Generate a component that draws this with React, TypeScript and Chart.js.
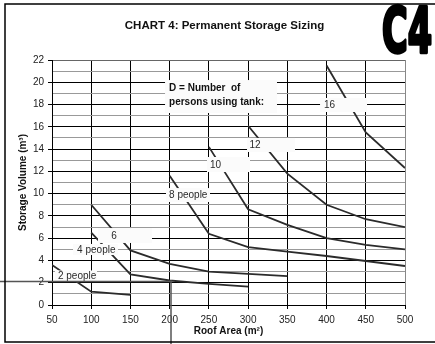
import React, { useEffect, useRef } from "react";
import { Chart, registerables } from "chart.js";

Chart.register(...registerables);

// Data
const roofArea = [50, 100, 150, 200, 250, 300, 350, 400, 450, 500];
const people2 = [3.6, 1.2, 0.9, null, null, null, null, null, null, null];
const people4 = [null, 6.5, 2.75, 2.2, 1.9, 1.65, null, null, null, null];
const people6 = [null, 9.0, 4.9, 3.7, 3.0, 2.8, 2.6, null, null, null];
const people8 = [null, null, null, 11.6, 6.4, 5.2, 4.8, 4.4, 3.95, 3.5];
const people10 = [null, null, null, null, 14.2, 8.6, 7.2, 6.0, 5.4, 5.0];
const people12 = [null, null, null, null, null, 16.1, 11.8, 9.0, 7.7, 7.0];
const people16 = [null, null, null, null, null, null, null, 21.5, 15.5, 12.3];

const seriesList = [people2, people4, people6, people8, people10, people12, people16];

const chartTitle = "CHART 4: Permanent Storage Sizing";
const xTitle = "Roof Area (m²)";
const yTitle = "Storage Volume (m³)";
const badge = "C4";

// Label annotations (data units): text anchor + white box
const labelTexts = ["2 people", "4 people", "6", "8 people", "10", "12", "16"];
const labelBoxes = [
  // [x0, x1, yTop, yBottom, textX]
  [53.8, 107.4, 3.1, 2.15, 57.6],
  [76.8, 134.1, 5.48, 4.49, 82],
  [108.6, 177.5, 6.91, 5.57, 125.5],
  [195.3, 251.4, 10.5, 9.25, 199.2],
  [247.6, 302.4, 13.29, 11.94, 251.4],
  [298.6, 359.8, 15.0, 13.74, 301.8],
  [391.7, 451.6, 18.59, 17.33, 396.8],
];
const legendNote = ["D = Number  of", "persons using tank:"];
const legendBox = [194.1, 336.8, 20.2, 17.24, 199.2];
const crosshair = { x: 201.7, y: 2.11 };

const FONT = "'Liberation Sans', Arial, sans-serif";

export default function App() {
  const ref = useRef<HTMLCanvasElement | null>(null);

  useEffect(() => {
    const canvas = ref.current;
    if (!canvas) return;

    const overlay = {
      id: "overlay",
      afterDatasetsDraw(chart: any) {
        const ctx = chart.ctx;
        const xs = chart.scales.x;
        const ys = chart.scales.y;
        ctx.save();
        // label boxes
        ctx.font = `10px ${FONT}`;
        ctx.textBaseline = "middle";
        labelTexts.forEach((t, i) => {
          const [x0, x1, yt, yb, tx] = labelBoxes[i];
          const px0 = xs.getPixelForValue(x0);
          const px1 = xs.getPixelForValue(x1);
          const py0 = ys.getPixelForValue(yt);
          const py1 = ys.getPixelForValue(yb);
          ctx.fillStyle = "#fbfbfb";
          ctx.fillRect(px0, py0, px1 - px0, py1 - py0);
          ctx.fillStyle = "#2a2a2a";
          ctx.textAlign = "left";
          ctx.fillText(t, xs.getPixelForValue(tx), (py0 + py1) / 2 + 0.5);
        });
        // legend note
        {
          const [x0, x1, yt, yb, tx] = legendBox;
          const px0 = xs.getPixelForValue(x0);
          const px1 = xs.getPixelForValue(x1);
          const py0 = ys.getPixelForValue(yt);
          const py1 = ys.getPixelForValue(yb);
          ctx.fillStyle = "#fbfbfb";
          ctx.fillRect(px0, py0, px1 - px0, py1 - py0);
          ctx.fillStyle = "#111";
          ctx.font = `bold 10px ${FONT}`;
          ctx.textAlign = "left";
          const h = py1 - py0;
          legendNote.forEach((line, i) => {
            ctx.fillText(line, xs.getPixelForValue(tx), py0 + h * (0.24 + i * 0.43));
          });
        }
        // crosshair
        const cx = xs.getPixelForValue(crosshair.x);
        const cy = ys.getPixelForValue(crosshair.y);
        ctx.strokeStyle = "#555";
        ctx.lineWidth = 1.5;
        ctx.beginPath();
        ctx.moveTo(0, cy);
        ctx.lineTo(cx, cy);
        ctx.moveTo(cx, cy - 1);
        ctx.lineTo(cx, chart.height);
        ctx.stroke();
        ctx.restore();
      },
      afterDraw(chart: any) {
        const ctx = chart.ctx;
        const W = chart.width;
        const H = chart.height;
        const area = chart.chartArea;
        ctx.save();
        // frame
        ctx.strokeStyle = "#000";
        ctx.lineWidth = 1.5;
        ctx.beginPath();
        ctx.moveTo(W, 4);
        ctx.lineTo(5, 4);
        ctx.lineTo(5, H - 2);
        ctx.lineTo(W, H - 2);
        ctx.stroke();
        // title
        ctx.fillStyle = "#111";
        ctx.font = `bold 11.5px ${FONT}`;
        ctx.textAlign = "center";
        ctx.textBaseline = "middle";
        ctx.fillText(chartTitle, (area.left + area.right) / 2 - 4, 26);
        // badge
        ctx.font = `bold 62px 'Liberation Sans Narrow', 'DejaVu Sans Condensed', ${FONT}`;
        ctx.textAlign = "left";
        ctx.textBaseline = "alphabetic";
        const w = ctx.measureText(badge).width;
        ctx.translate(382, 52);
        ctx.scale(50 / w, 1);
        ctx.fillStyle = "#000";
        ctx.fillText(badge, 0, 0);
        ctx.lineWidth = 3.5;
        ctx.lineJoin = "round";
        ctx.strokeStyle = "#000";
        ctx.strokeText(badge, 0, 0);
        ctx.restore();
      },
    };

    const datasets = seriesList.map((s) => ({
      data: roofArea.map((x, i) => ({ x, y: s[i] })),
      borderColor: "#2b2b2b",
      borderWidth: 1.8,
      pointRadius: 0,
      fill: false,
      tension: 0,
      spanGaps: false,
    }));

    const chart = new Chart(canvas, {
      type: "line",
      data: { datasets },
      options: {
        animation: false,
        responsive: false,
        layout: { padding: { top: 60, right: 30, left: 12, bottom: 0 } },
        plugins: { legend: { display: false }, tooltip: { enabled: false }, title: { display: false } },
        scales: {
          x: {
            type: "linear",
            min: 50,
            max: 500,
            afterFit: (s: any) => {
              s.height = 39;
            },
            ticks: {
              stepSize: 50,
              color: "#222",
              font: { family: FONT, size: 10 },
              padding: 5,
              maxRotation: 0,
            },
            grid: {
              color: (c: any) => (c.tick && c.tick.value === 500 ? "#888" : "#000"),
              lineWidth: 1,
              tickLength: 4,
              tickColor: "#000",
            },
            border: { color: "#000", width: 1 },
            title: {
              display: true,
              text: xTitle,
              color: "#111",
              font: { family: FONT, size: 10, weight: "bold" },
              padding: { top: 0, bottom: 7 },
            },
          },
          y: {
            type: "linear",
            min: 0,
            max: 22,
            afterFit: (s: any) => {
              s.width = 40;
            },
            ticks: {
              stepSize: 1,
              autoSkip: false,
              color: "#222",
              font: { family: FONT, size: 10 },
              padding: 4,
              callback: (v: any) => (Number(v) % 2 === 0 ? String(v) : ""),
            },
            grid: {
              color: (c: any) => {
                const v = c.tick ? c.tick.value : 0;
                if (v === 22) return "#666";
                return v % 2 === 0 ? "#000" : "#999";
              },
              lineWidth: 1,
              tickLength: 4,
              tickColor: (c: any) => (c.tick && c.tick.value % 2 === 0 ? "#000" : "rgba(0,0,0,0)"),
            },
            border: { color: "#000", width: 1 },
            title: {
              display: true,
              text: yTitle,
              color: "#111",
              font: { family: FONT, size: 10, weight: "bold" },
              padding: { top: 5, bottom: 0 },
            },
          },
        },
      },
      plugins: [overlay],
    });

    return () => chart.destroy();
  }, []);

  return (
    <div style={{ position: "absolute", left: 0, top: 0, width: 435, height: 344, background: "#fff" }}>
      <canvas ref={ref} width={435} height={344} style={{ display: "block" }} />
    </div>
  );
}
